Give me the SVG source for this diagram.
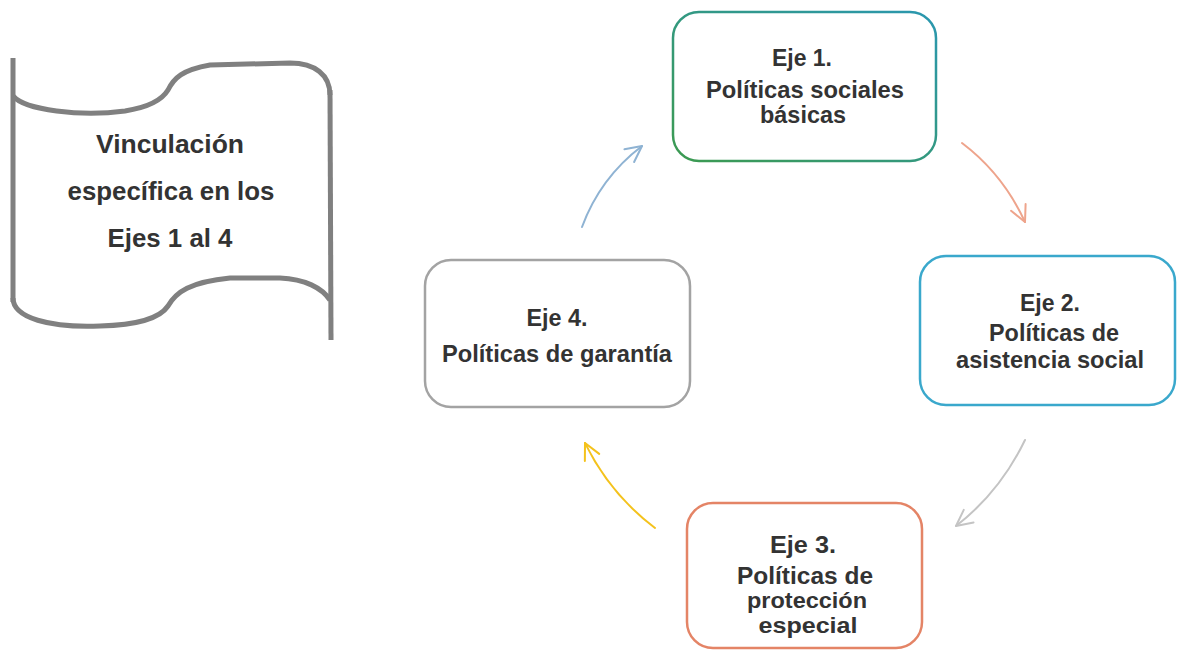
<svg xmlns="http://www.w3.org/2000/svg" width="1177" height="651" viewBox="0 0 1177 651">
<style>
  .t { font-family: "Liberation Sans", Arial, sans-serif; font-weight: bold; fill: #333333; text-anchor: middle; }
  .scroll { fill: none; stroke: #808080; stroke-width: 5; }
  .box { fill: #ffffff; stroke-width: 2.5; }
  .conn { fill: none; stroke-width: 2; stroke-linecap: round; }
</style>
<defs>
  <linearGradient id="g1" x1="0" y1="1" x2="1" y2="0">
    <stop offset="0" stop-color="#3c9a50"/>
    <stop offset="1" stop-color="#2a97b0"/>
  </linearGradient>
  <marker id="mBlue" viewBox="-20 -12 24 24" refX="0" refY="0" markerWidth="24" markerHeight="24" markerUnits="userSpaceOnUse" orient="auto">
    <path d="M-16,-8 L0,0 L-16,8" fill="none" stroke="#8fb3d3" stroke-width="2" stroke-linecap="round" stroke-linejoin="round"/>
  </marker>
  <marker id="mSalmon" viewBox="-20 -12 24 24" refX="0" refY="0" markerWidth="24" markerHeight="24" markerUnits="userSpaceOnUse" orient="auto">
    <path d="M-16,-8 L0,0 L-16,8" fill="none" stroke="#eea48c" stroke-width="2" stroke-linecap="round" stroke-linejoin="round"/>
  </marker>
  <marker id="mGray" viewBox="-20 -12 24 24" refX="0" refY="0" markerWidth="24" markerHeight="24" markerUnits="userSpaceOnUse" orient="auto">
    <path d="M-16,-8 L0,0 L-16,8" fill="none" stroke="#c4c4c4" stroke-width="2" stroke-linecap="round" stroke-linejoin="round"/>
  </marker>
  <marker id="mYellow" viewBox="-20 -12 24 24" refX="0" refY="0" markerWidth="24" markerHeight="24" markerUnits="userSpaceOnUse" orient="auto">
    <path d="M-16,-8 L0,0 L-16,8" fill="none" stroke="#f4c21c" stroke-width="2" stroke-linecap="round" stroke-linejoin="round"/>
  </marker>
</defs>
<rect width="1177" height="651" fill="#ffffff"/>

<g id="scroll">
  <path class="scroll" d="M13,58 L13,302"/>
  <path class="scroll" d="M13,96 C25,110 80,117 125,111 C150,107 162,100 168,90 C174,78 182,70 210,65 L290,63 C315,63 330,75 330,95"/>
  <path class="scroll" d="M330,90 L331,340"/>
  <path class="scroll" d="M13,298 C13,318 50,328 100,326 C140,325 160,318 168,306 C176,292 190,282 230,278 L280,278 C305,279 322,288 330,300"/>
  <text class="t" font-size="25" x="170" y="153" textLength="148" lengthAdjust="spacingAndGlyphs">Vinculación</text>
  <text class="t" font-size="25" x="171" y="200" textLength="207" lengthAdjust="spacingAndGlyphs">específica en los</text>
  <text class="t" font-size="25" x="170" y="247" textLength="125" lengthAdjust="spacingAndGlyphs">Ejes 1 al 4</text>
</g>

<g id="eje1">
  <rect class="box" x="673" y="12" width="263" height="149" rx="26" ry="26" stroke="url(#g1)"/>
  <text class="t" font-size="24" x="802" y="66" textLength="60" lengthAdjust="spacingAndGlyphs">Eje 1.</text>
  <text class="t" font-size="24" x="805" y="98" textLength="198" lengthAdjust="spacingAndGlyphs">Políticas sociales</text>
  <text class="t" font-size="24" x="803" y="123" textLength="86" lengthAdjust="spacingAndGlyphs">básicas</text>
</g>

<g id="eje2">
  <rect class="box" x="920" y="256" width="255" height="149" rx="26" ry="26" stroke="#3aa8cc"/>
  <text class="t" font-size="24" x="1050" y="311" textLength="60" lengthAdjust="spacingAndGlyphs">Eje 2.</text>
  <text class="t" font-size="24" x="1054" y="341" textLength="130" lengthAdjust="spacingAndGlyphs">Políticas de</text>
  <text class="t" font-size="24" x="1050" y="368" textLength="188" lengthAdjust="spacingAndGlyphs">asistencia social</text>
</g>

<g id="eje3">
  <rect class="box" x="687" y="503" width="235" height="145" rx="26" ry="26" stroke="#e48466"/>
  <text class="t" font-size="23" x="803" y="553" textLength="66" lengthAdjust="spacingAndGlyphs">Eje 3.</text>
  <text class="t" font-size="23" x="805" y="584" textLength="136" lengthAdjust="spacingAndGlyphs">Políticas de</text>
  <text class="t" font-size="22" x="807" y="608" textLength="120" lengthAdjust="spacingAndGlyphs">protección</text>
  <text class="t" font-size="22" x="808" y="633" textLength="99" lengthAdjust="spacingAndGlyphs">especial</text>
</g>

<g id="eje4">
  <rect class="box" x="425" y="260" width="265" height="147" rx="26" ry="26" stroke="#a3a3a3"/>
  <text class="t" font-size="24" x="557" y="326" textLength="61" lengthAdjust="spacingAndGlyphs">Eje 4.</text>
  <text class="t" font-size="24" x="557" y="362" textLength="230" lengthAdjust="spacingAndGlyphs">Políticas de garantía</text>
</g>

<g id="connectors">
  <path class="conn" stroke="#8fb3d3" d="M582,227 Q600,178 642,146" marker-end="url(#mBlue)"/>
  <path class="conn" stroke="#eea48c" d="M962,143 Q1003,174 1025,222" marker-end="url(#mSalmon)"/>
  <path class="conn" stroke="#c4c4c4" d="M1025,440 Q1000,492 956,526" marker-end="url(#mGray)"/>
  <path class="conn" stroke="#f4c21c" d="M655,528 Q610,494 585,443" marker-end="url(#mYellow)"/>
</g>
</svg>
